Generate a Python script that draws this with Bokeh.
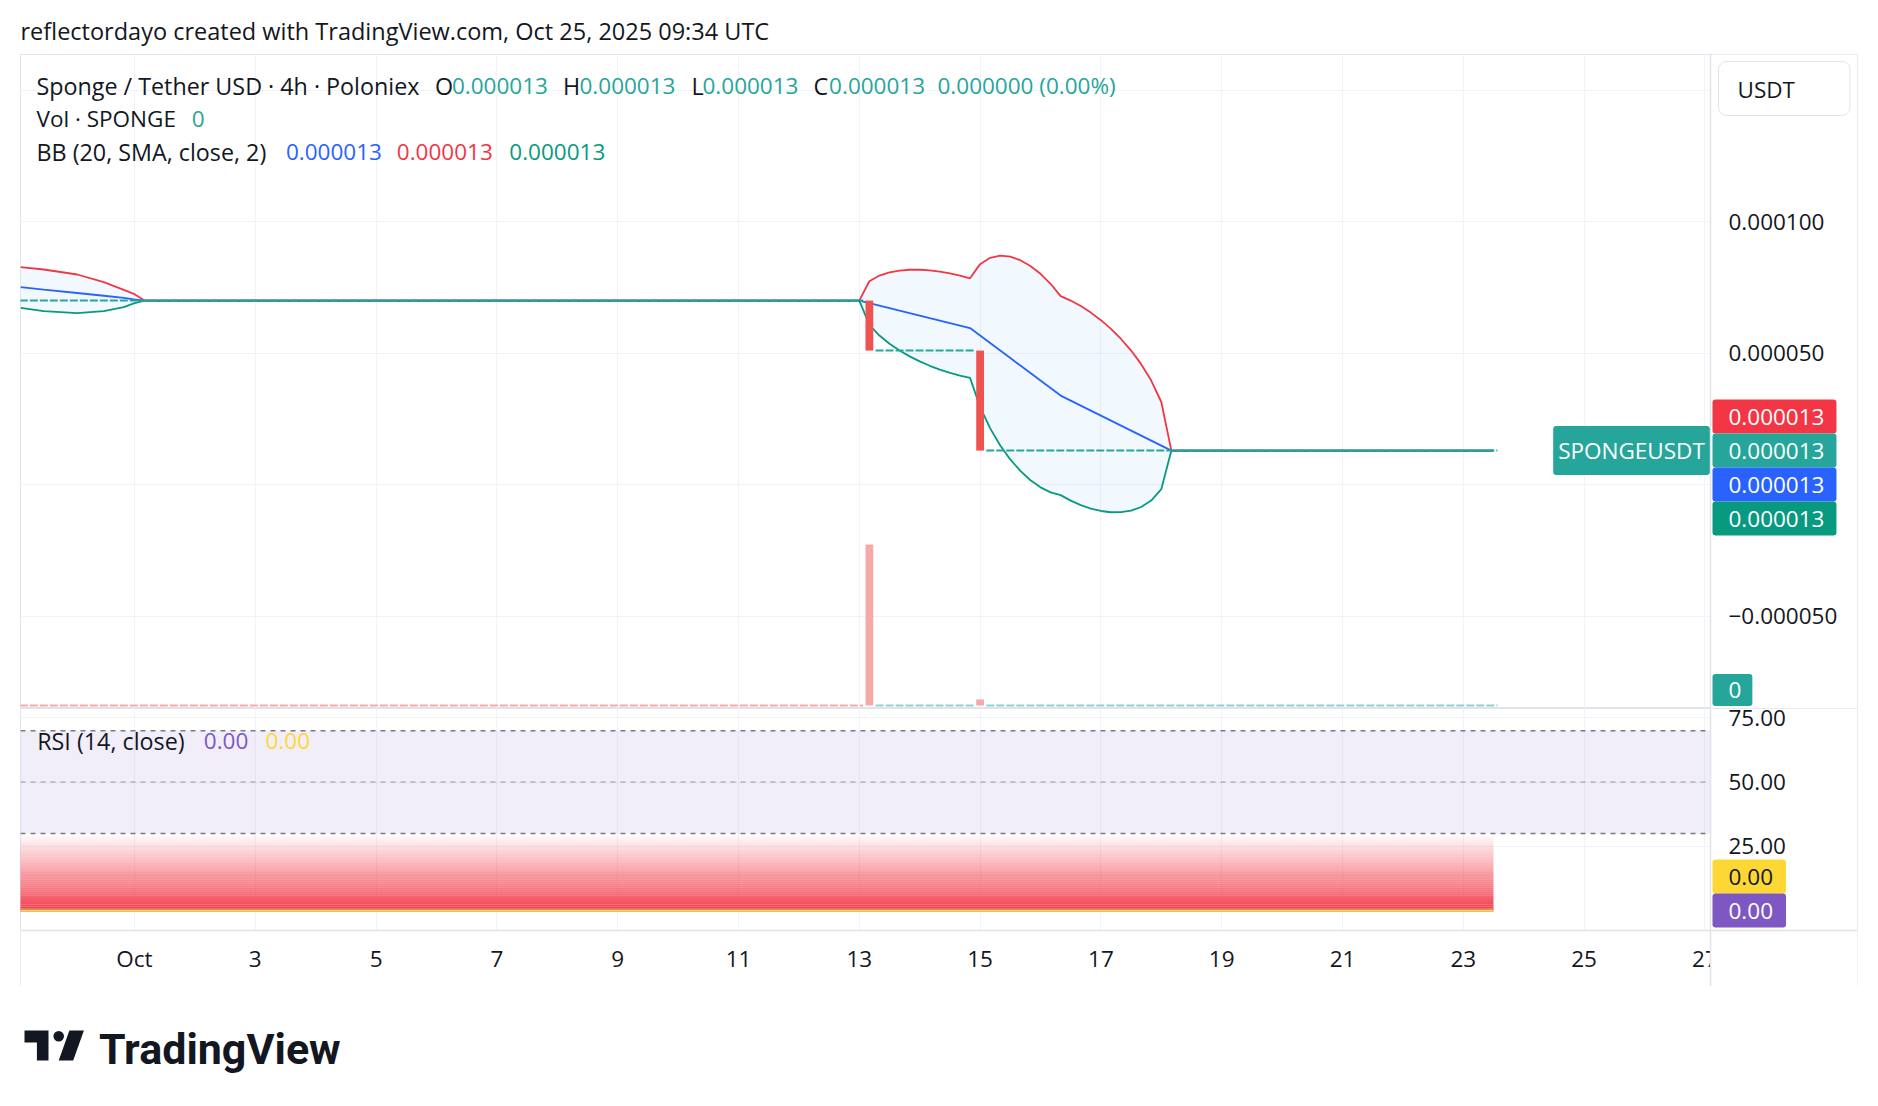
import numpy as np
from bokeh.plotting import figure
from bokeh.models import (Range1d, LinearAxis, FixedTicker, CustomJSTickFormatter, Grid,
                          Label, BoxAnnotation, Span)
from bokeh.layouts import column
from bokeh.embed import file_html
from bokeh.resources import INLINE
from bokeh.core.properties import value

# ---------------- data ----------------
header_text = "reflectordayo created with TradingView.com, Oct 25, 2025 09:34 UTC"
symbol_title = "Sponge / Tether USD \u00b7 4h \u00b7 Poloniex"
ohlc_names = ["O", "H", "L", "C"]
ohlc_values = ["0.000013", "0.000013", "0.000013", "0.000013"]
change_text = "0.000000 (0.00%)"
vol_title = "Vol \u00b7 SPONGE"
vol_last = "0"
bb_title = "BB (20, SMA, close, 2)"
bb_last = ["0.000013", "0.000013", "0.000013"]
rsi_title = "RSI (14, close)"
rsi_last = ["0.00", "0.00"]
currency = "USDT"
ticker_name = "SPONGEUSDT"
last_price_text = "0.000013"

# days since Oct 1 (00:00)
x_tick_days = [0, 2, 4, 6, 8, 10, 12, 14, 16, 18, 20, 22, 24, 26]
x_tick_labels = ["Oct", "3", "5", "7", "9", "11", "13", "15", "17", "19", "21", "23", "25", "27"]
price_ticks = [1.0e-4, 5.0e-5, -5.0e-5]
price_grid = [1.5e-4, 1.0e-4, 5.0e-5, 0.0, -5.0e-5]
rsi_ticks = [25, 50, 75]
rsi_levels = [70, 50, 30]

# runs of flat 4h candles (open = high = low = close)
flat_start = [-2.0, 12.3333, 14.1667]
flat_end = [12.0, 13.8333, 22.5]
flat_price = [7.0e-5, 5.1e-5, 1.3e-5]
# candles with a body
candle_day = [12.1667, 14.0]
candle_open = [7.0e-5, 5.1e-5]
candle_close = [5.1e-5, 1.3e-5]
# volume
vol_day = [12.1667, 14.0]
vol_value = [8.0e6, 3.0e5]
vol_flat_color = ["#F7A9A7", "#92D2CC", "#92D2CC"]

# Bollinger bands (20, 2)
bb_day = [-1.887, -1.502, -0.949, -0.508, -0.177, -0.012, 0.1667, 12.0,
          12.1667, 12.3333, 12.5, 12.6667, 12.8333, 13.0, 13.1667, 13.3333, 13.5, 13.6667, 13.8333,
          14.0, 14.1667, 14.3333, 14.5, 14.6667, 14.8333, 15.0, 15.1667, 15.3333,
          15.5, 15.6667, 15.8333, 16.0, 16.1667, 16.3333, 16.5, 16.6667, 16.8333, 17.0,
          17.1667, 22.5]
bb_upper = [8.268e-5, 8.180e-5, 7.990e-5, 7.698e-5, 7.409e-5, 7.257e-5, 7.0e-5, 7.0e-5,
            7.733e-5, 7.950e-5, 8.072e-5, 8.140e-5, 8.170e-5, 8.171e-5, 8.148e-5, 8.102e-5, 8.036e-5, 7.950e-5, 7.846e-5,
            8.384e-5, 8.626e-5, 8.705e-5, 8.667e-5, 8.534e-5, 8.316e-5, 8.017e-5, 7.638e-5, 7.171e-5,
            7.000e-5, 6.791e-5, 6.543e-5, 6.255e-5, 5.923e-5, 5.541e-5, 5.100e-5, 4.584e-5, 3.960e-5, 3.146e-5,
            1.3e-5, 1.3e-5]
bb_basis = [7.508e-5, 7.416e-5, 7.287e-5, 7.183e-5, 7.105e-5, 7.045e-5, 7.0e-5, 7.0e-5,
            6.905e-5, 6.810e-5, 6.715e-5, 6.620e-5, 6.525e-5, 6.430e-5, 6.335e-5, 6.240e-5, 6.145e-5, 6.050e-5, 5.955e-5,
            5.670e-5, 5.385e-5, 5.100e-5, 4.815e-5, 4.530e-5, 4.245e-5, 3.960e-5, 3.675e-5, 3.390e-5,
            3.200e-5, 3.010e-5, 2.820e-5, 2.630e-5, 2.440e-5, 2.250e-5, 2.060e-5, 1.870e-5, 1.680e-5, 1.490e-5,
            1.3e-5, 1.3e-5]
bb_lower = [6.725e-5, 6.596e-5, 6.520e-5, 6.596e-5, 6.748e-5, 6.892e-5, 7.0e-5, 7.0e-5,
            6.077e-5, 5.670e-5, 5.358e-5, 5.100e-5, 4.880e-5, 4.689e-5, 4.522e-5, 4.378e-5, 4.254e-5, 4.150e-5, 4.064e-5,
            2.956e-5, 2.144e-5, 1.495e-5, 0.963e-5, 0.526e-5, 0.174e-5, -0.097e-5, -0.288e-5, -0.391e-5,
            -0.600e-5, -0.771e-5, -0.903e-5, -0.995e-5, -1.043e-5, -1.041e-5, -0.980e-5, -0.844e-5, -0.600e-5, -0.167e-5,
            1.3e-5, 1.3e-5]

# RSI (14) and its MA
rsi_day = [-2.0, 22.5]
rsi_value = [0.0, 0.0]
rsi_ma = [0.0, 0.0]

# ---------------- style / layout ----------------
W = 1878
FONT = "Open Sans"
FS = 22.5          # numbers / scale labels
FS_T = 23.3        # legend titles
DARK = "#131722"
TEAL = "#26A69A"
GREEN = "#089981"
RED = "#F23645"
BLUE = "#2962FF"
PURPLE = "#7E57C2"
YELLOW = "#FDD835"
CANDLE_RED = "#EF5350"
GRID = "#F0F3FA"
BORDER = "#E0E3EB"
BAR_W = 0.77 / 6.0
FRAME_L, FRAME_R = 20, 1857          # page x of chart frame edges
LABEL_X = 1728                       # page x where scale labels start
BOX_X = 1712                         # page x where scale label boxes start
MAIN_TOP, MAIN_BOT = 54, 708
CHART_BOT = 986

X0, X1 = -1.8874, 28.5265            # day range across the frame
X_SEP = 26.0927                      # day at the price-scale separator
P0, P1 = -8.499e-5, 1.6349e-4
V0, V1 = -1.49e5, 3.2348e7
R0, R1 = -29.53, 78.64
R_AXIS = -7.74                       # RSI value at the time-axis border
BOX_PAD = dict(left=16, right=12, top=9, bottom=9)


def lab(p, x, y, text, color, size=FS, x_units="screen", y_units="screen", align="left",
        baseline="middle", bg=None, pad=None, y_offset=0, radius=0, border=None):
    kw = dict(x=x, y=y, x_units=x_units, y_units=y_units, text=text, text_color=color,
              text_font=FONT, text_font_size=f"{size}px", text_align=align,
              text_baseline=baseline, y_offset=y_offset)
    if bg is not None:
        kw.update(background_fill_color=bg, background_fill_alpha=1.0)
    if pad is not None:
        kw["padding"] = pad
    if radius:
        kw["border_radius"] = radius
    if border is not None:
        kw["border_line_color"] = border
    p.add_layout(Label(**kw))


def strip_grids(p):
    p.center = [r for r in p.center if not isinstance(r, Grid)]


def style_axis(ax):
    ax.axis_line_color = None
    ax.major_tick_line_color = None
    ax.minor_tick_line_color = None
    ax.major_tick_out = 0
    ax.major_tick_in = 0
    ax.major_label_text_font = FONT
    ax.major_label_text_font_size = f"{FS}px"
    ax.major_label_text_color = DARK


def base_fig(height, x_range, y_range, outline=BORDER):
    p = figure(width=W, height=height, x_range=x_range, y_range=y_range,
               x_axis_location=None, y_axis_location=None, toolbar_location=None,
               output_backend="svg", min_border_left=FRAME_L, min_border_right=W - FRAME_R,
               min_border_top=0, min_border_bottom=0, outline_line_color=outline)
    strip_grids(p)
    return p


def sx(px):
    return px - FRAME_L


# ---------------- header ----------------
head = base_fig(MAIN_TOP, Range1d(FRAME_L, FRAME_R), Range1d(MAIN_TOP, 0), outline=None)
head.text(x=[20], y=[30], text=[header_text], text_font=value(FONT), text_font_size="23.5px",
          text_color=DARK, text_baseline="middle")

# ---------------- main price pane ----------------
main = base_fig(MAIN_BOT - MAIN_TOP, Range1d(X0, X1), Range1d(P0, P1))
main.extra_y_ranges = {"vol": Range1d(V0, V1)}
main.add_layout(Grid(dimension=0, ticker=FixedTicker(ticks=x_tick_days), grid_line_color=GRID))
main.add_layout(Grid(dimension=1, ticker=FixedTicker(ticks=price_grid), grid_line_color=GRID))
main.add_layout(BoxAnnotation(left=X_SEP, fill_color="white", fill_alpha=1.0, line_color=None,
                              level="underlay"))

pax = LinearAxis(ticker=FixedTicker(ticks=price_ticks),
                 formatter=CustomJSTickFormatter(code="return (tick < 0 ? '\\u2212' : '') + Math.abs(tick).toFixed(6);"))
style_axis(pax)
pax.major_label_standoff = LABEL_X - FRAME_R
main.add_layout(pax, "right")

# BB fill
main.patch(x=bb_day + bb_day[::-1], y=bb_upper + bb_lower[::-1], fill_color="#2196F3",
           fill_alpha=0.06, line_color=None)

# volume
fs = np.array(flat_start); fe = np.array(flat_end)
main.segment(x0=fs - BAR_W / 2, x1=fe + BAR_W / 2, y0=[0] * 3, y1=[0] * 3, y_range_name="vol",
             line_color=vol_flat_color, line_width=2, line_dash="8 2")
main.vbar(x=vol_day, width=BAR_W, top=vol_value, bottom=0, y_range_name="vol",
          fill_color="#F7A9A7", line_color=None)

# BB lines
main.line(bb_day, bb_upper, line_color=RED, line_width=1.8)
main.line(bb_day, bb_basis, line_color=BLUE, line_width=1.8)
main.line(bb_day, bb_lower, line_color=GREEN, line_width=1.8)

# candles
main.segment(x0=fs - BAR_W / 2, x1=fe + BAR_W / 2, y0=flat_price, y1=flat_price,
             line_color=TEAL, line_width=2, line_dash="8 2")
main.vbar(x=candle_day, width=BAR_W, top=candle_open, bottom=candle_close,
          fill_color=CANDLE_RED, line_color=None)

main.add_layout(Span(location=X_SEP, dimension="height", line_color=BORDER, line_width=1.5))

def sy_main(py):
    return MAIN_BOT - py

y1, y2, y3 = sy_main(85), sy_main(118.3), sy_main(151.7)
lab(main, sx(36), y1, symbol_title, DARK, size=FS_T)
for px_n, px_v, n, v in zip([434.6, 562.4, 691, 813], [451.4, 579, 702, 828.6], ohlc_names, ohlc_values):
    lab(main, sx(px_n), y1, n, DARK, size=FS_T)
    lab(main, sx(px_v), y1, v, TEAL)
lab(main, sx(937), y1, change_text, TEAL)
lab(main, sx(36), y2, vol_title, DARK, size=FS)
lab(main, sx(191.3), y2, vol_last, TEAL)
lab(main, sx(36), y3, bb_title, DARK, size=FS_T)
for px, v, c in zip([285.4, 396.3, 508.8], bb_last, [BLUE, RED, GREEN]):
    lab(main, sx(px), y3, v, c)

# currency box
lab(main, sx(1718), sy_main(88), currency, DARK, bg="white", border=BORDER, radius=8,
    pad=dict(left=19, right=55, top=12, bottom=11))

# price-scale labels
last_y = flat_price[-1]
for off, col in zip([34, 0, -34, -68], [RED, TEAL, BLUE, GREEN]):
    lab(main, sx(BOX_X), last_y, last_price_text, "white", y_units="data", y_offset=off, bg=col,
        radius=3, pad=BOX_PAD)
lab(main, sx(1631), last_y, ticker_name, "white", y_units="data", align="center", bg=TEAL,
    radius=3, pad=dict(left=5, right=5, top=9, bottom=9))
lab(main, sx(BOX_X), sy_main(689.5), vol_last, "white", bg=TEAL, radius=3,
    pad=dict(left=16, right=11, top=8, bottom=8))

# ---------------- RSI pane + time axis ----------------
rsi = base_fig(CHART_BOT - MAIN_BOT, main.x_range, Range1d(R0, R1))
rsi.add_layout(Grid(dimension=0, ticker=FixedTicker(ticks=x_tick_days), grid_line_color=GRID))
rsi.add_layout(Grid(dimension=1, ticker=FixedTicker(ticks=rsi_ticks), grid_line_color=GRID))
rsi.add_layout(BoxAnnotation(left=X_SEP, fill_color="white", fill_alpha=1.0, line_color=None,
                             level="underlay"))
rsi.add_layout(BoxAnnotation(top=R_AXIS, fill_color="white", fill_alpha=1.0, line_color=None,
                             level="underlay"))

xax = LinearAxis(ticker=FixedTicker(ticks=x_tick_days),
                 major_label_overrides={d: l for d, l in zip(x_tick_days, x_tick_labels)})
style_axis(xax)
xax.major_label_standoff = -44
rsi.add_layout(xax, "below")

rax = LinearAxis(ticker=FixedTicker(ticks=rsi_ticks),
                 formatter=CustomJSTickFormatter(code="return tick.toFixed(2);"))
style_axis(rax)
rax.major_label_standoff = LABEL_X - FRAME_R
rsi.add_layout(rax, "right")

rsi.add_layout(BoxAnnotation(bottom=rsi_levels[2], top=rsi_levels[0], right=X_SEP,
                             fill_color=PURPLE, fill_alpha=0.1, line_color=None, level="underlay"))
# oversold gradient fill (30 -> RSI)
n = 40
edges = np.linspace(rsi_value[0], rsi_levels[2], n + 1)
alphas = [float(0.95 * (1 - (i + 0.5) / n)) for i in range(n)]
rsi.quad(left=[rsi_day[0]] * n, right=[rsi_day[-1]] * n, bottom=edges[:-1], top=edges[1:],
         fill_color=RED, fill_alpha=alphas, line_color=None)
for lvl, a in zip(rsi_levels, [1.0, 0.5, 1.0]):
    rsi.segment(x0=[X0], x1=[X_SEP], y0=[lvl], y1=[lvl], line_color="#787B86", line_alpha=a,
                line_dash="5 5", line_width=1.5)
rsi.line(rsi_day, rsi_value, line_color=PURPLE, line_width=2)
rsi.line(rsi_day, rsi_ma, line_color=YELLOW, line_width=2)

# price-scale panel hides the time label that runs past the separator
rsi.add_layout(BoxAnnotation(left=X_SEP, top=R_AXIS, fill_color="white", fill_alpha=1.0,
                             line_color=None, level="annotation"))
rsi.add_layout(Span(location=X_SEP, dimension="height", line_color=BORDER, line_width=1.5,
                    level="overlay"))
rsi.add_layout(Span(location=R_AXIS, dimension="width", line_color=BORDER, line_width=1.5,
                    level="overlay"))

def sy_rsi(py):
    return CHART_BOT - py

lab(rsi, sx(36.7), sy_rsi(740), rsi_title, DARK, size=FS_T)
lab(rsi, sx(203.3), sy_rsi(740), rsi_last[0], PURPLE)
lab(rsi, sx(265), sy_rsi(740), rsi_last[1], YELLOW)
lab(rsi, sx(BOX_X), rsi_ma[-1], rsi_last[1], DARK, y_units="data", y_offset=34, bg=YELLOW, radius=3,
    pad=dict(left=16, right=13, top=9, bottom=9))
lab(rsi, sx(BOX_X), rsi_value[-1], rsi_last[0], "white", y_units="data", bg=PURPLE, radius=3,
    pad=dict(left=16, right=13, top=9, bottom=9))

# ---------------- footer (logo) ----------------
FOOT_H = 1106 - CHART_BOT
foot = base_fig(FOOT_H, Range1d(FRAME_L, FRAME_R), Range1d(FOOT_H, 0), outline=None)
foot.patches(xs=[[24, 48, 48, 36.4, 36.4, 24], [68.9, 83.4, 72.7, 58.2]],
             ys=[[44, 44, 74, 74, 56, 56], [44, 44, 74, 74]], fill_color=DARK, line_color=None)
foot.circle(x=[58.2], y=[49.7], radius=5.3, fill_color=DARK, line_color=None)
foot.text(x=[98.4], y=[62], text=["TradingView"], text_font=value("Roboto"), text_font_size="43px",
          text_font_style="bold", text_color=DARK, text_baseline="alphabetic")

layout = column(head, main, rsi, foot, spacing=0)
open("out.html", "w").write(file_html(layout, INLINE))
